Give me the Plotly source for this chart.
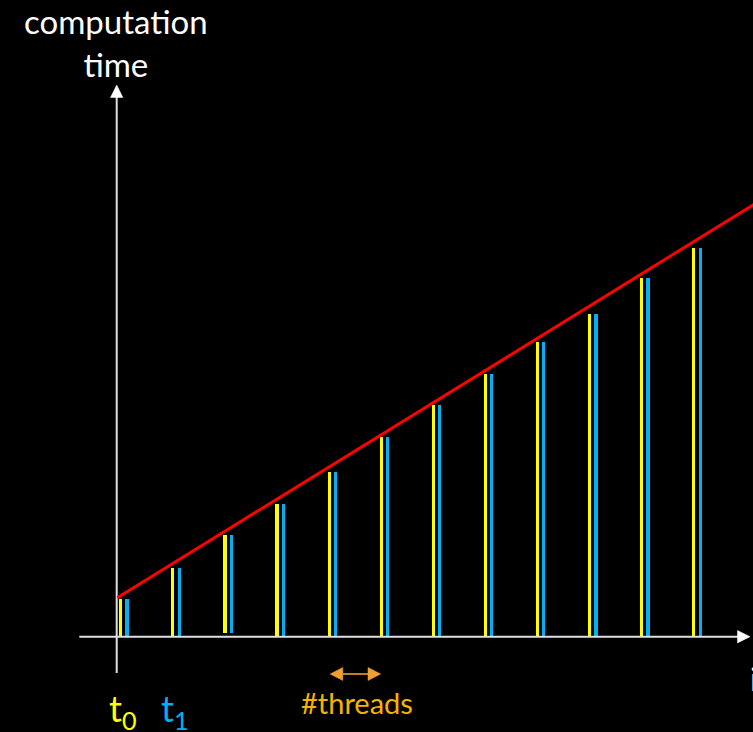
import plotly.graph_objects as go

# ---- data ----
iterations = list(range(12))                       # iteration index of each pair of bars
time_t0 = [0.97, 1.76, 2.61, 3.40, 4.23, 5.13, 5.95, 6.75, 7.57, 8.29, 9.21, 10.0]
time_t1 = [0.97, 1.76, 2.61, 3.40, 4.23, 5.13, 5.95, 6.75, 7.57, 8.29, 9.21, 10.0]
bar_base = [0, 0, 0.10, 0, 0, 0, 0, 0, 0, 0, 0, 0]
trend_x = [-0.065, 12.2]
trend_y = [1.0, 11.15]
thread_offset = 0.121                                # t1 bar drawn right after t0 bar

# ---- layout constants ----
W, H = 753, 732
UX, UY = 52.1, 38.9            # px per data unit
X0PX, Y0PX = 120.7, 636.7      # pixel position of data origin
x_range = [-X0PX / UX, (W - X0PX) / UX]
y_range = [(Y0PX - H) / UY, Y0PX / UY]

def dx(px):
    return px / UX

def dy(px):
    return px / UY

YELLOW = "#FFFF00"
BLUE = "#00B0F0"
RED = "#FF0000"
AXIS = "#E0E0E0"
ORANGE = "#F0A030"
GOLD = "#F5B400"
FONT = "Lato"

fig = go.Figure()

bw = dx(3.2)
fig.add_trace(go.Bar(x=iterations, y=[t - b for t, b in zip(time_t0, bar_base)], base=bar_base,
                     width=bw, marker=dict(color=YELLOW, line=dict(width=0)), hoverinfo="skip"))
fig.add_trace(go.Bar(x=[i + thread_offset for i in iterations],
                     y=[t - b for t, b in zip(time_t1, bar_base)], base=bar_base,
                     width=bw, marker=dict(color=BLUE, line=dict(width=0)), hoverinfo="skip"))

# axes
x_axis_start = dx(79.3 - X0PX)
x_axis_tip = dx(750 - X0PX)
y_axis_x = dx(116.7 - X0PX)
y_axis_bottom = dy(Y0PX - 673)
y_axis_tip = dy(Y0PX - 85)
head_len, head_half = 12.5, 6.2

fig.add_trace(go.Scatter(x=[x_axis_start, x_axis_tip - dx(head_len - 1)], y=[0, 0], mode="lines",
                         line=dict(color=AXIS, width=2), hoverinfo="skip"))
fig.add_trace(go.Scatter(x=[x_axis_tip - dx(head_len), x_axis_tip, x_axis_tip - dx(head_len), x_axis_tip - dx(head_len)],
                         y=[dy(head_half), 0, -dy(head_half), dy(head_half)],
                         mode="lines", fill="toself", fillcolor="white", line=dict(color="white", width=0.5),
                         hoverinfo="skip"))
fig.add_trace(go.Scatter(x=[y_axis_x, y_axis_x], y=[y_axis_bottom, y_axis_tip - dy(head_len - 1)], mode="lines",
                         line=dict(color=AXIS, width=2), hoverinfo="skip"))
fig.add_trace(go.Scatter(x=[y_axis_x - dx(head_half), y_axis_x, y_axis_x + dx(head_half), y_axis_x - dx(head_half)],
                         y=[y_axis_tip - dy(head_len), y_axis_tip, y_axis_tip - dy(head_len), y_axis_tip - dy(head_len)],
                         mode="lines", fill="toself", fillcolor="white", line=dict(color="white", width=0.5),
                         hoverinfo="skip"))

# trend line
fig.add_trace(go.Scatter(x=trend_x, y=trend_y, mode="lines", line=dict(color=RED, width=3), hoverinfo="skip"))

# "#threads" double arrow spanning one bar spacing
ay = dy(Y0PX - 674)
a0, a1 = iterations[4] + dx(1), iterations[5] - dx(0.5)
hl, hh = 12.7, 6.5
fig.add_trace(go.Scatter(x=[a0 + dx(hl), a1 - dx(hl)], y=[ay, ay], mode="lines",
                         line=dict(color=ORANGE, width=1.6), hoverinfo="skip"))
for tip, sgn in ((a0, 1), (a1, -1)):
    fig.add_trace(go.Scatter(x=[tip + sgn * dx(hl), tip, tip + sgn * dx(hl), tip + sgn * dx(hl)],
                             y=[ay + dy(hh), ay, ay - dy(hh), ay + dy(hh)],
                             mode="lines", fill="toself", fillcolor=ORANGE, line=dict(color=ORANGE, width=0.5),
                             hoverinfo="skip"))

def px2paper(xp, yp):
    return xp / W, 1 - yp / H

ann = []
x, y = px2paper(116, -1)
ann.append(dict(x=x, y=y, text="computation<br>time", xanchor="center", yanchor="top",
                font=dict(family=FONT, size=33, color="white"), align="center"))
x, y = px2paper(357, 702)
ann.append(dict(x=x, y=y, text="#threads", xanchor="center", yanchor="middle",
                font=dict(family=FONT, size=29, color=GOLD)))
x, y = px2paper(107, 710)
ann.append(dict(x=x, y=y, text="t<sub>0</sub>", xanchor="left", yanchor="middle",
                font=dict(family=FONT, size=36, color=YELLOW)))
x, y = px2paper(159, 710)
ann.append(dict(x=x, y=y, text="t<sub>1</sub>", xanchor="left", yanchor="middle",
                font=dict(family=FONT, size=36, color=BLUE)))
x, y = px2paper(748, 678)
ann.append(dict(x=x, y=y, text="i", xanchor="left", yanchor="middle",
                font=dict(family=FONT, size=32, color="white")))
for a in ann:
    a.update(xref="paper", yref="paper", showarrow=False)

fig.update_layout(
    width=W, height=H, margin=dict(l=0, r=0, t=0, b=0),
    paper_bgcolor="black", plot_bgcolor="black", showlegend=False,
    barmode="overlay", bargap=0,
    xaxis=dict(range=x_range, visible=False, fixedrange=True),
    yaxis=dict(range=y_range, visible=False, fixedrange=True),
    annotations=ann,
)

fig.write_html("out.html", config={"displayModeBar": False},
               post_script="document.body.style.margin='0';document.body.style.background='black';document.body.style.overflow='hidden';")
